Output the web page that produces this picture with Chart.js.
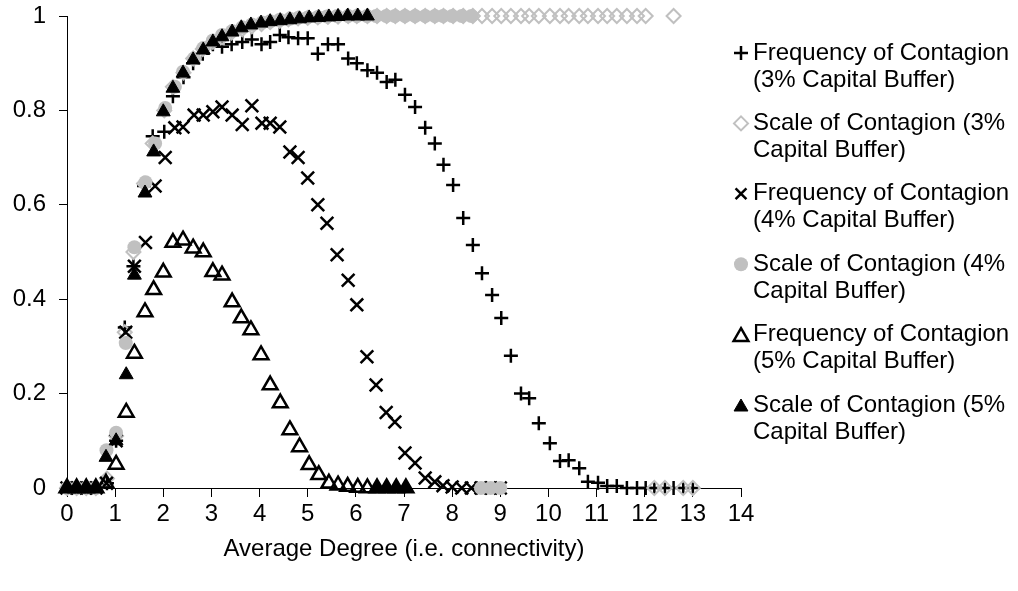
<!DOCTYPE html>
<html><head><meta charset="utf-8">
<script src="https://cdn.jsdelivr.net/npm/chart.js@4.4.1/dist/chart.umd.min.js"></script>
<style>html,body{margin:0;padding:0;background:#fff;} #wrap{width:1018px;height:591px;position:relative;}</style>
</head><body><div id="wrap"><canvas id="c"></canvas></div>
<script>
// ---- data ----
const deg3 = [0,0.2,0.4,0.6,0.83,1.02,1.2,1.38,1.6,1.78,2.02,2.2,2.42,2.62,2.82,3.03,3.22,3.42,3.64,3.84,4.04,4.22,4.42,4.6,4.8,5.0,5.21,5.42,5.63,5.84,6.02,6.24,6.44,6.64,6.82,7.02,7.23,7.44,7.64,7.82,8.02,8.23,8.43,8.62,8.83,9.02,9.22,9.43,9.6,9.8,10.03,10.24,10.42,10.64,10.82,11.03,11.22,11.42,11.63,11.84,12.02,12.2,12.42,12.6,12.8,13.0];
const freq3 = [0,0,0,0,0.01,0.1,0.34,0.47,0.64,0.745,0.755,0.83,0.87,0.9,0.92,0.94,0.935,0.94,0.945,0.95,0.94,0.945,0.96,0.955,0.953,0.953,0.92,0.94,0.94,0.91,0.9,0.885,0.88,0.86,0.865,0.833,0.807,0.763,0.73,0.685,0.642,0.572,0.515,0.455,0.409,0.36,0.28,0.2,0.19,0.137,0.095,0.057,0.059,0.042,0.013,0.011,0.004,0.004,0,0,0,0,0,0,0,0];
const scale3 = [0,0,0,0,0.02,0.11,0.33,0.5,0.645,0.73,0.8,0.85,0.88,0.91,0.93,0.945,0.955,0.965,0.972,0.978,0.983,0.987,0.99,0.993,0.995,0.996,0.997,0.998,0.999,1,1,1,1,1,1,1,1,1,1,1,1,1,1,1,1,1,1,1,1,1,1,1,1,1,1,1,1,1,1,1,1,0,0,1,0,0];

const deg4 = [0,0.2,0.4,0.6,0.82,1.02,1.22,1.4,1.63,1.83,2.04,2.24,2.41,2.64,2.83,3.03,3.22,3.43,3.64,3.84,4.05,4.22,4.42,4.63,4.8,5.0,5.21,5.4,5.61,5.84,6.02,6.23,6.42,6.63,6.81,7.02,7.23,7.44,7.64,7.81,8.0,8.2,8.4,8.6,8.8,9.0];
const freq4 = [0,0,0,0,0.01,0.1,0.33,0.47,0.52,0.64,0.7,0.763,0.765,0.79,0.79,0.797,0.807,0.79,0.77,0.81,0.773,0.773,0.765,0.712,0.7,0.657,0.6,0.561,0.494,0.44,0.388,0.278,0.218,0.16,0.14,0.074,0.053,0.021,0.013,0.005,0.002,0,0,0,0,0];
const scale4 = [0,0,0,0,0.08,0.117,0.307,0.51,0.648,0.73,0.805,0.85,0.882,0.91,0.932,0.948,0.96,0.968,0.976,0.982,0.986,0.989,0.992,0.994,0.996,0.997,0.998,0.999,1,1,1,1,1,1,1,1,1,1,1,1,1,1,1,0,0,0];

const deg5 = [0,0.2,0.4,0.6,0.81,1.02,1.23,1.4,1.62,1.8,2.0,2.2,2.41,2.62,2.83,3.03,3.22,3.43,3.62,3.82,4.03,4.22,4.43,4.63,4.83,5.03,5.23,5.44,5.63,5.83,6.04,6.24,6.44,6.64,6.84,7.04];
const freq5 = [0,0,0,0,0.01,0.05,0.16,0.285,0.373,0.42,0.457,0.52,0.525,0.508,0.5,0.458,0.451,0.394,0.36,0.335,0.282,0.218,0.18,0.123,0.087,0.049,0.028,0.01,0.006,0.003,0.001,0,0,0,0,0];
const scale5 = [0,0,0,0,0.065,0.1,0.24,0.451,0.625,0.712,0.797,0.847,0.879,0.907,0.928,0.945,0.956,0.966,0.975,0.981,0.985,0.988,0.99,0.992,0.994,0.996,0.997,0.998,0.999,1,1,1,0,0,0,0];

const seriesLabels = [
  ["Frequency of Contagion", "(3% Capital Buffer)"],
  ["Scale of Contagion (3%", "Capital Buffer)"],
  ["Frequency of Contagion", "(4% Capital Buffer)"],
  ["Scale of Contagion (4%", "Capital Buffer)"],
  ["Frequency of Contagion", "(5% Capital Buffer)"],
  ["Scale of Contagion (5%", "Capital Buffer)"]
];
const xTitle = "Average Degree (i.e. connectivity)";

// ---- build ----
const FONT = "'Liberation Sans', Arial, sans-serif";
const FS = 24;
const pts = (xs, ys) => xs.map((x, i) => ({x: x, y: ys[i]}));
const styles = [
  {pointStyle: 'cross',    pointRadius: 7,   pointBorderWidth: 2.5, pointBorderColor: '#000', pointBackgroundColor: '#000'},
  {pointStyle: 'rectRot',  pointRadius: 7,   pointBorderWidth: 2,   pointBorderColor: '#c0c0c0', pointBackgroundColor: 'rgba(0,0,0,0)'},
  {pointStyle: 'crossRot', pointRadius: 9,   pointBorderWidth: 2.5, pointBorderColor: '#000', pointBackgroundColor: '#000'},
  {pointStyle: 'circle',   pointRadius: 7,   pointBorderWidth: 0,   pointBorderColor: '#c0c0c0', pointBackgroundColor: '#c0c0c0'},
  {pointStyle: 'triangle', pointRadius: 8.5, pointBorderWidth: 2.5, pointBorderColor: '#000', pointBackgroundColor: 'rgba(0,0,0,0)'},
  {pointStyle: 'triangle', pointRadius: 8,   pointBorderWidth: 1,   pointBorderColor: '#000', pointBackgroundColor: '#000'}
];
const rawData = [pts(deg3,freq3), pts(deg3,scale3), pts(deg4,freq4), pts(deg4,scale4), pts(deg5,freq5), pts(deg5,scale5)];
const datasets = rawData.map((d, i) => Object.assign({
  label: seriesLabels[i].join(' '),
  data: d,
  showLine: false,
  clip: false,
  order: 6 - i,
  pointHoverRadius: styles[i].pointRadius
}, styles[i]));

const legendPlugin = {
  id: 'customLegend',
  afterDraw(chart) {
    const ctx = chart.ctx;
    ctx.save();
    ctx.font = FS + 'px ' + FONT;
    ctx.fillStyle = '#000';
    ctx.textBaseline = 'middle';
    ctx.textAlign = 'left';
    const x0 = 741, tx = 753, y0 = 53, step = 70.4, lh = 27;
    seriesLabels.forEach((lines, i) => {
      const y = y0 + i * step;
      const s = styles[i];
      ctx.save();
      ctx.strokeStyle = s.pointBorderColor;
      ctx.fillStyle = s.pointBackgroundColor;
      ctx.lineWidth = s.pointBorderWidth;
      const r = s.pointRadius * (s.pointStyle === 'crossRot' ? 0.85 : 1);
      Chart.helpers.drawPoint(ctx, {pointStyle: s.pointStyle, radius: r, rotation: 0, borderWidth: s.pointBorderWidth}, x0, s.pointStyle === 'triangle' ? y + r * 0.25 : y);
      ctx.restore();
      ctx.fillStyle = '#000';
      lines.forEach((t, k) => ctx.fillText(t, tx, y + k * lh));
    });
    ctx.restore();
  }
};

new Chart(document.getElementById('c'), {
  type: 'scatter',
  data: {datasets: datasets},
  options: {
    responsive: true,
    maintainAspectRatio: false,
    animation: false,
    events: [],
    layout: {padding: {left: 0, right: 277, top: 16, bottom: 0}},
    plugins: {legend: {display: false}, tooltip: {enabled: false}},
    scales: {
      x: {
        type: 'linear', min: 0, max: 14,
        afterFit: s => { s.height = 103; s.paddingLeft = 0; s.paddingRight = 0; },
        border: {display: true, color: '#000', width: 1},
        grid: {display: true, drawOnChartArea: false, drawTicks: true, tickLength: 9, color: '#000'},
        ticks: {stepSize: 1, color: '#000', font: {family: FONT, size: FS}, padding: 3, maxRotation: 0, autoSkip: false},
        title: {display: true, text: xTitle, color: '#000', font: {family: FONT, size: FS}, padding: {top: 0, bottom: 27}}
      },
      y: {
        type: 'linear', min: 0, max: 1,
        afterFit: s => { s.width = 67; s.paddingTop = 0; s.paddingBottom = 0; },
        border: {display: true, color: '#000', width: 1},
        grid: {display: true, drawOnChartArea: false, drawTicks: true, tickLength: 8, color: '#000'},
        ticks: {stepSize: 0.2, color: '#000', font: {family: FONT, size: FS}, padding: 13,
          callback: v => String(+v.toFixed(1))}
      }
    }
  },
  plugins: [legendPlugin]
});
</script>
</body></html>
